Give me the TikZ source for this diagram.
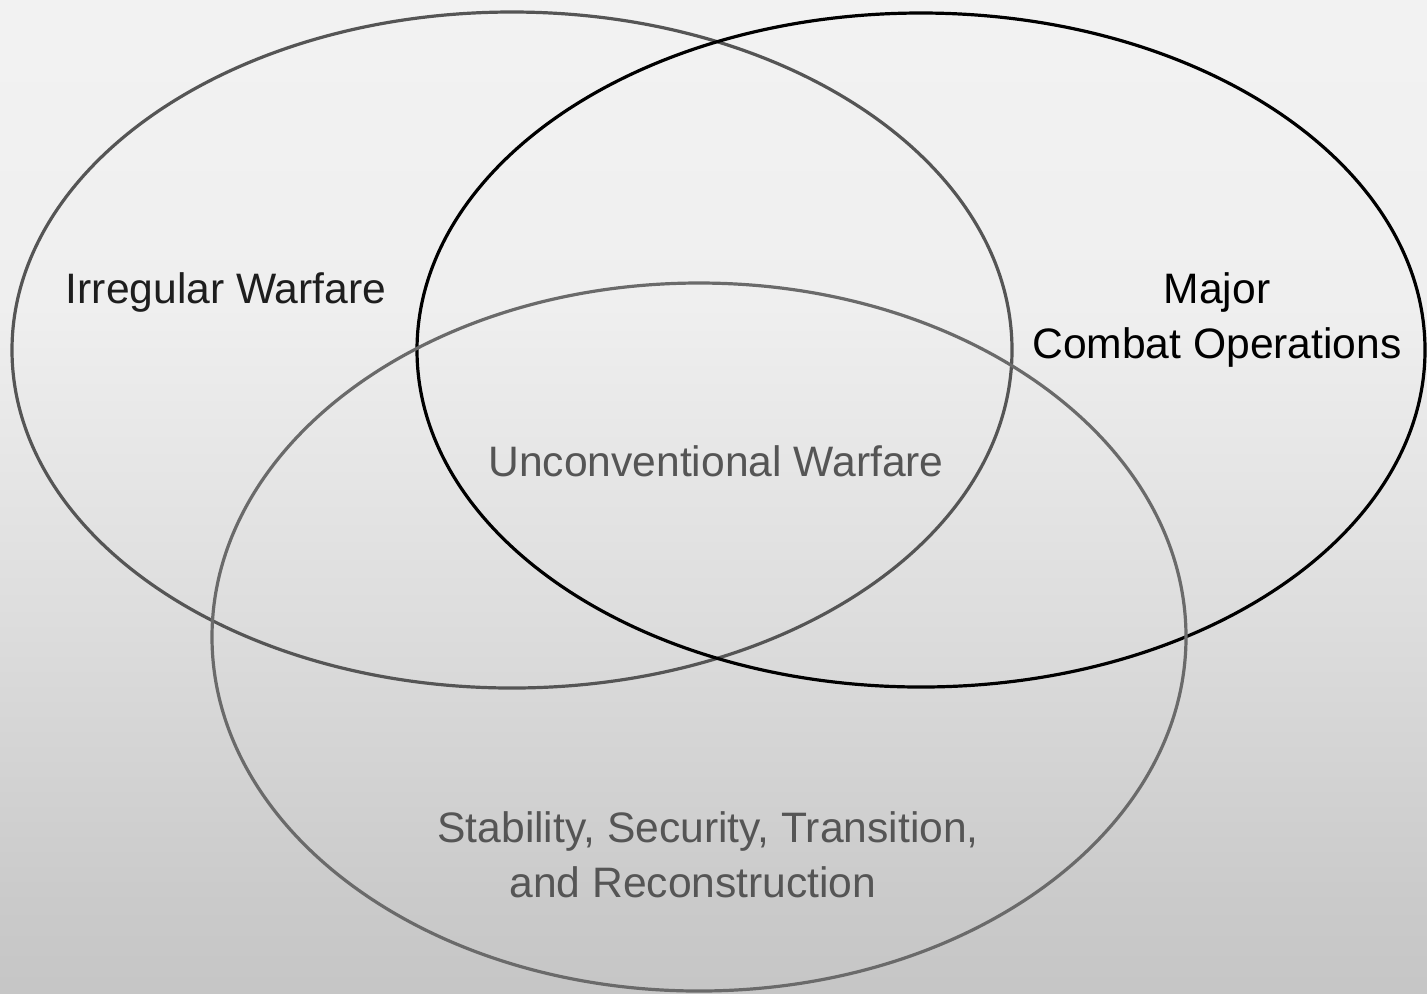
\documentclass[tikz,border=0pt]{standalone}
\usepackage{fontspec}
\setmainfont{Liberation Sans}
\usetikzlibrary{shapes.geometric}

\definecolor{bgtop}{HTML}{F8F8F8}
\definecolor{bglight}{HTML}{EFEFEF}
\definecolor{bgmid}{HTML}{DEDEDE}
\definecolor{bgdeep}{HTML}{CACACA}
\definecolor{bgbot}{HTML}{AEAEAE}
\definecolor{ringdark}{HTML}{555555}
\definecolor{ringgrey}{HTML}{6A6A6A}
\definecolor{textdark}{HTML}{1E1E1E}
\definecolor{textgrey}{HTML}{555555}

% backdrop running from light grey at the top to mid grey at the bottom
\pgfdeclareverticalshading{backdrop}{100bp}{%
  color(0bp)=(bgbot); color(29.5bp)=(bgdeep); color(44.6bp)=(bgmid);
  color(59.7bp)=(bglight); color(100bp)=(bgtop)}

\tikzset{
  ring/.style={line width=1.6pt},
  label/.style={font=\fontsize{21.3}{27.5}\selectfont, inner sep=0pt},
}

\begin{document}
\begin{tikzpicture}[x=0.5pt, y=-0.5pt]
  \useasboundingbox (0,0) rectangle (1427,993);
  \shade[shading=backdrop] (0,0) rectangle (1427,993);

  % the three overlapping areas
  \coordinate (cIrr) at (512,350);
  \coordinate (cMaj) at (921,350);
  \coordinate (cSta) at (699,637);
  \draw[ring, draw=ringdark] (cIrr) ellipse [x radius=250pt, y radius=169pt];
  \draw[ring, draw=black]    (cMaj) ellipse [x radius=252pt, y radius=168.5pt];
  \draw[ring, draw=ringgrey] (cSta) ellipse [x radius=243.5pt, y radius=177pt];

  % area names (base anchors of two-line labels sit on the last line)
  \node[label, text=textdark, anchor=base] (irr) at (226,303) {Irregular Warfare};
  \node[label, text=black, anchor=base, align=center] (maj) at (1217,358)
    {Major\\Combat Operations};
  \node[label, text=textgrey, anchor=base] (unc) at (716,476) {Unconventional Warfare};
  \node[label, text=textgrey, anchor=base west, align=left] (sta) at (437,897)
    {Stability, Security, Transition,\\\hspace*{36pt}and Reconstruction};
\end{tikzpicture}
\end{document}
